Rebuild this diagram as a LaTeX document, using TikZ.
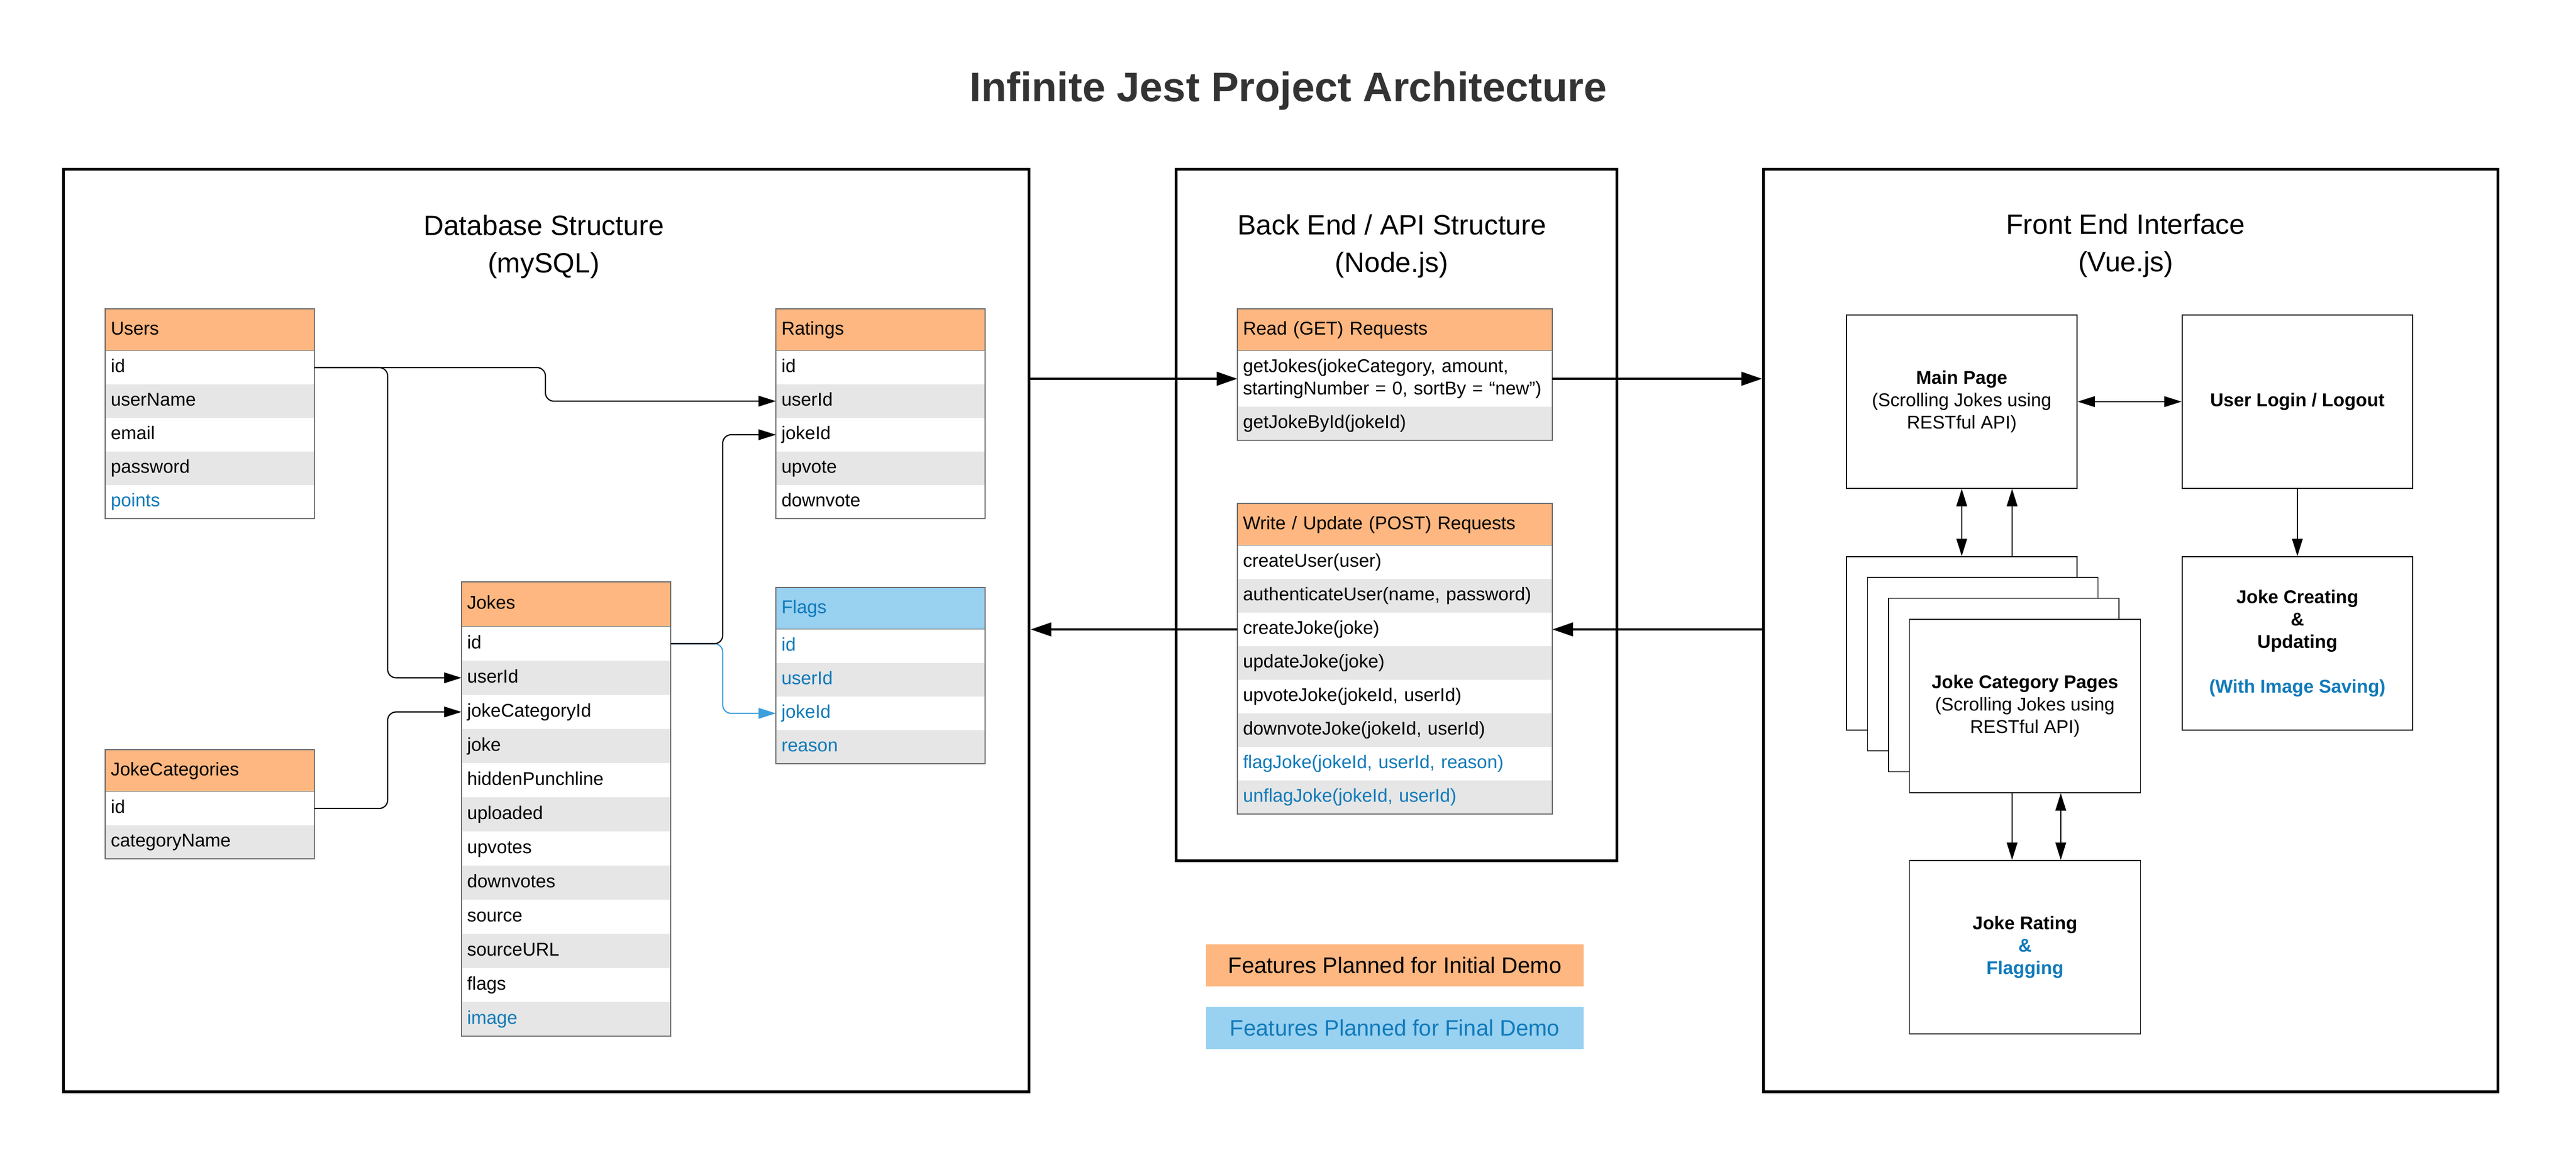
\documentclass[tikz,border=0pt]{standalone}
\usepackage{fontspec}
\setmainfont{Liberation Sans}
\usepackage{tikz}
\usepackage{xcolor}
\usetikzlibrary{positioning,arrows.meta}

\definecolor{hdrorange}{RGB}{254,183,128}
\definecolor{hdrblue}{RGB}{153,209,241}
\definecolor{rowgray}{RGB}{230,230,230}
\definecolor{edgegray}{RGB}{110,110,110}
\definecolor{planblue}{RGB}{16,122,186}
\definecolor{fkblue}{RGB}{60,160,220}
\definecolor{titlegray}{RGB}{51,51,51}

\tikzset{
    tablecell/.style={inner xsep=0.1cm, inner ysep=0pt, outer sep=0pt, align=left, fill=white,
        font=\fontsize{9.39pt}{11.38pt}\selectfont, minimum height=0.6cm},
    oneline/.style={text height=0.24cm, text depth=0.07cm},
    dbhead/.style={tablecell, oneline, fill=hdrorange, draw=edgegray, line width=0.6pt,
        text width=3.54cm, minimum height=0.75cm, anchor=north west},
    flaghead/.style={dbhead, fill=hdrblue, text=planblue},
    dbfield/.style={tablecell, oneline, text width=3.54cm},
    dbalt/.style={dbfield, fill=rowgray},
    apihead/.style={dbhead, text width=5.43cm},
    apicall/.style={tablecell, oneline, text width=5.43cm},
    apialt/.style={apicall, fill=rowgray},
    planned/.style={text=planblue},
    tableedge/.style={draw=edgegray, line width=0.6pt},
    section/.style={draw, line width=1.5pt, anchor=north west, inner sep=0pt},
    sectitle/.style={align=center, font=\fontsize{14.2pt}{19.06pt}\selectfont},
    page/.style={draw, fill=white, line width=0.5pt, anchor=north west, inner sep=0pt,
        minimum width=4.12cm, minimum height=3.1cm, align=center,
        font=\fontsize{9.39pt}{11.38pt}\selectfont},
    legendbox/.style={minimum width=6.75cm, minimum height=0.75cm, inner sep=0pt,
        font=\fontsize{11.38pt}{13pt}\selectfont},
    fk/.style={->, line width=0.6pt, rounded corners=0.15cm},
    link/.style={line width=0.5pt},
    bigarrow/.style={-{Triangle[length=0.37cm,width=0.24cm]}, line width=1.3pt},
}

\begin{document}
\begin{tikzpicture}[>={Triangle[length=0.31cm,width=0.19cm]}]
    \useasboundingbox (0,0) rectangle (46.05,-20.67);

    \node[font=\bfseries\fontsize{21.05pt}{25pt}\selectfont, text=titlegray, anchor=base] (title) at (23.03,-1.81) {Infinite Jest Project Architecture};

    % database
    \node[section, minimum width=17.26cm, minimum height=16.49cm] (db) at (1.11,-3.00) {};
    \node[sectitle] (dbtitle) at (9.72,-4.41) {Database Structure\\(mySQL)};

    \node[dbhead] (u0) at (1.88,-5.52) {Users};
    \node[dbfield, below=0pt of u0] (u1) {id};
    \node[dbalt, below=0pt of u1] (u2) {userName};
    \node[dbfield, below=0pt of u2] (u3) {email};
    \node[dbalt, below=0pt of u3] (u4) {password};
    \node[dbfield, planned, below=0pt of u4] (u5) {points};
    \draw[tableedge] (u0.north west) rectangle (u5.south east);

    \node[dbhead] (r0) at (13.87,-5.52) {Ratings};
    \node[dbfield, below=0pt of r0] (r1) {id};
    \node[dbalt, below=0pt of r1] (r2) {userId};
    \node[dbfield, below=0pt of r2] (r3) {jokeId};
    \node[dbalt, below=0pt of r3] (r4) {upvote};
    \node[dbfield, below=0pt of r4] (r5) {downvote};
    \draw[tableedge] (r0.north west) rectangle (r5.south east);

    \begin{scope}[dbfield/.append style={minimum height=0.61cm}]
        \node[dbhead, minimum height=0.8cm] (j0) at (8.25,-10.40) {Jokes};
        \node[dbfield, below=0pt of j0] (j1) {id};
        \node[dbalt, below=0pt of j1] (j2) {userId};
        \node[dbfield, below=0pt of j2] (j3) {jokeCategoryId};
        \node[dbalt, below=0pt of j3] (j4) {joke};
        \node[dbfield, below=0pt of j4] (j5) {hiddenPunchline};
        \node[dbalt, below=0pt of j5] (j6) {uploaded};
        \node[dbfield, below=0pt of j6] (j7) {upvotes};
        \node[dbalt, below=0pt of j7] (j8) {downvotes};
        \node[dbfield, below=0pt of j8] (j9) {source};
        \node[dbalt, below=0pt of j9] (j10) {sourceURL};
        \node[dbfield, below=0pt of j10] (j11) {flags};
        \node[dbalt, planned, below=0pt of j11] (j12) {image};
    \end{scope}
    \draw[tableedge] (j0.north west) rectangle (j12.south east);

    \node[flaghead] (f0) at (13.87,-10.50) {Flags};
    \node[dbfield, planned, below=0pt of f0] (f1) {id};
    \node[dbalt, planned, below=0pt of f1] (f2) {userId};
    \node[dbfield, planned, below=0pt of f2] (f3) {jokeId};
    \node[dbalt, planned, below=0pt of f3] (f4) {reason};
    \draw[tableedge] (f0.north west) rectangle (f4.south east);

    \node[dbhead] (c0) at (1.88,-13.40) {JokeCategories};
    \node[dbfield, below=0pt of c0] (c1) {id};
    \node[dbalt, below=0pt of c1] (c2) {categoryName};
    \draw[tableedge] (c0.north west) rectangle (c2.south east);

    \draw[fk, color=fkblue] (j1.east) -- ++(0.93,0) |- (f3.west);
    \draw[fk] (j1.east) -- ++(0.93,0) |- (r3.west);
    \draw[fk] (u1.east) -- ++(4.13,0) |- (r2.west);
    \draw[fk] (u1.east) -- ++(1.31,0) |- (j2.west);
    \draw[fk] (c1.east) -- ++(1.31,0) |- (j3.west);

    % back end
    \node[section, minimum width=7.88cm, minimum height=12.36cm] (api) at (21.00,-3.00) {};
    \node[sectitle] (apititle) at (24.88,-4.40) {Back End / API Structure\\(Node.js)};

    \node[apihead] (g0) at (22.12,-5.52) {Read (GET) Requests};
    \node[tablecell, text width=5.43cm, minimum height=1.0cm, below=0pt of g0] (g1) {getJokes(jokeCategory, amount,\\startingNumber = 0, sortBy = “new”)};
    \node[apialt, below=0pt of g1] (g2) {getJokeById(jokeId)};
    \draw[tableedge] (g0.north west) rectangle (g2.south east);

    \node[apihead] (w0) at (22.12,-9.00) {Write / Update (POST) Requests};
    \node[apicall, below=0pt of w0] (w1) {createUser(user)};
    \node[apialt, below=0pt of w1] (w2) {authenticateUser(name, password)};
    \node[apicall, below=0pt of w2] (w3) {createJoke(joke)};
    \node[apialt, below=0pt of w3] (w4) {updateJoke(joke)};
    \node[apicall, below=0pt of w4] (w5) {upvoteJoke(jokeId, userId)};
    \node[apialt, below=0pt of w5] (w6) {downvoteJoke(jokeId, userId)};
    \node[apicall, planned, below=0pt of w6] (w7) {flagJoke(jokeId, userId, reason)};
    \node[apialt, planned, below=0pt of w7] (w8) {unflagJoke(jokeId, userId)};
    \draw[tableedge] (w0.north west) rectangle (w8.south east);

    \node[legendbox, fill=hdrorange] (initdemo) at (24.935,-17.255) {Features Planned for Initial Demo};
    \node[legendbox, fill=hdrblue, text=planblue] (finaldemo) at (24.935,-18.375) {Features Planned for Final Demo};

    % front end
    \node[section, minimum width=13.13cm, minimum height=16.49cm] (fe) at (31.50,-3.00) {};
    \node[sectitle] (fetitle) at (38.00,-4.39) {Front End Interface\\(Vue.js)};

    \node[page] (main) at (33.00,-5.62) {\textbf{Main Page}\\(Scrolling Jokes using\\RESTful API)};
    \node[page] (login) at (39.00,-5.62) {\textbf{User Login / Logout}};
    \node[page] (create) at (39.00,-9.94) {\textbf{Joke Creating}\\\textbf{\&}\\\textbf{Updating}\\[0.4cm]\textcolor{planblue}{\textbf{(With Image Saving)}}};
    \node[page] (cat1) at (33.00,-9.94) {};
    \node[page] (cat2) at (33.375,-10.31) {};
    \node[page] (cat3) at (33.75,-10.685) {};
    \node[page, minimum width=4.13cm] (cat4) at (34.125,-11.06) {\textbf{Joke Category Pages}\\(Scrolling Jokes using\\RESTful API)};
    \node[page, minimum width=4.13cm] (rating) at (34.125,-15.37) {\textbf{Joke Rating}\\\textcolor{planblue}{\textbf{\&}}\\\textcolor{planblue}{\textbf{Flagging}}};

    \draw[link, <->] (main.east) -- (login.west);
    \draw[link, <->] (main.south) -- (cat1.north);
    \draw[link, ->] ([xshift=0.9cm]cat1.north) -- ([xshift=0.9cm]main.south);
    \draw[link, ->] (login.south) -- (create.north);
    \draw[link, ->] ([xshift=-0.23cm]cat4.south) -- ([xshift=-0.23cm]rating.north);
    \draw[link, <->] ([xshift=0.64cm]cat4.south) -- ([xshift=0.64cm]rating.north);

    % requests between the parts
    \draw[bigarrow] (db.east |- g1.west) -- (g1.west);
    \draw[bigarrow] (g1.east) -- (fe.west |- g1.east);
    \draw[bigarrow] (w3.west) -- (db.east |- w3.west);
    \draw[bigarrow] (fe.west |- w3.east) -- (w3.east);
\end{tikzpicture}
\end{document}
